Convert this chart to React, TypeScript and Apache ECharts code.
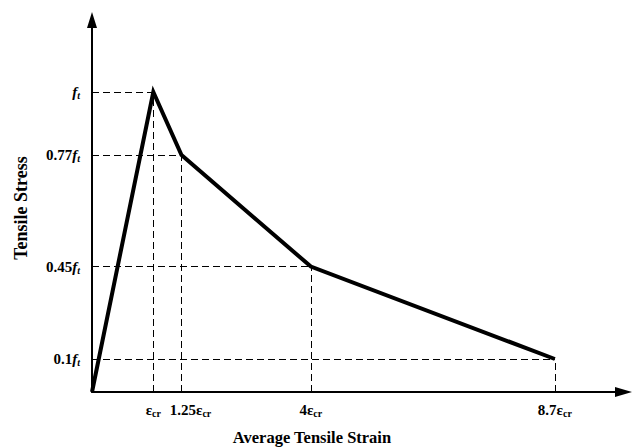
import React, { useEffect, useRef } from "react";
import * as echarts from "echarts";

// Strain positions (in units of ε_cr, as drawn) and stress (in units of f_t, as drawn)
const strainPos = [0, 1, 1.46, 3.57, 7.55];
const stressPos = [0, 1, 0.79, 0.418, 0.11];
const strainLabels = ["", "", "1.25", "4", "8.7"]; // prefix before ε_cr
const stressLabels = ["", "", "0.77", "0.45", "0.1"]; // prefix before f_t
const xTitle = "Average Tensile Strain";
const yTitle = "Tensile Stress";

const SERIF = "'Liberation Serif', 'Times New Roman', serif";

export default function App() {
  const ref = useRef<HTMLDivElement>(null);
  useEffect(() => {
    if (!ref.current) return;
    const chart = echarts.init(ref.current, undefined, { renderer: "svg" });
    const points = strainPos.map((x, i) => [x, stressPos[i]]);
    const guides: any[] = [];
    for (let i = 1; i < points.length; i++) {
      const [x, y] = points[i];
      guides.push([{ coord: [0, y] }, { coord: [x, y] }]);
      guides.push([{ coord: [x, 0] }, { coord: [x, y] }]);
    }
    const yVals = stressPos.slice(1);
    const baseRich = {
      n: { fontFamily: SERIF, fontWeight: "bold", fontSize: 15, color: "#000" },
      f: { fontFamily: SERIF, fontWeight: "bold", fontStyle: "italic", fontSize: 15, color: "#000" },
      e: { fontFamily: SERIF, fontWeight: "bold", fontSize: 15, color: "#000" },
      p: { width: 18 },
      s: {
        fontFamily: SERIF,
        fontWeight: "bold",
        fontSize: 10,
        color: "#000",
        padding: [7, 0, 0, 0],
      },
      si: {
        fontFamily: SERIF,
        fontWeight: "bold",
        fontStyle: "italic",
        fontSize: 10,
        color: "#000",
        padding: [7, 0, 0, 0],
      },
    };
    const xFormatter = (v: number) => {
      const i = strainPos.indexOf(v);
      const pre = i >= 0 ? strainLabels[i] : "";
      const pad = i === 2 ? "{p|}" : "";
      return pad + (pre ? `{n|${pre}}` : "") + "{e|ε}{s|cr}";
    };
    const xBase = {
      type: "value",
      min: 0,
      max: 8.67,
      position: "bottom",
      axisTick: { show: false },
      splitLine: { show: false },
    };
    chart.setOption({
      animation: false,
      backgroundColor: "#fff",
      grid: { left: 92, right: 10.5, top: 20, bottom: 55, containLabel: false },
      xAxis: [
        {
          ...xBase,
          axisLine: {
            show: true,
            symbol: ["none", "triangle"],
            symbolSize: [10, 17],
            lineStyle: { color: "#000", width: 2 },
          },
          axisLabel: {
            customValues: strainPos.slice(2),
            interval: 0,
            hideOverlap: false,
            margin: 9,
            formatter: xFormatter,
            rich: baseRich,
          },
        },
        {
          ...xBase,
          offset: 0,
          axisLine: { show: false },
          axisLabel: {
            customValues: strainPos.slice(1, 2),
            interval: 0,
            margin: 9,
            formatter: xFormatter,
            rich: baseRich,
          },
        },
      ],
      yAxis: {
        type: "value",
        min: 0,
        max: 1.24,
        axisLine: {
          show: true,
          symbol: ["none", "triangle"],
          symbolSize: [10, 16],
          lineStyle: { color: "#000", width: 2 },
        },
        axisTick: { show: false },
        splitLine: { show: false },
        axisLabel: {
          customValues: yVals,
          interval: 0,
          hideOverlap: false,
          margin: 12,
          formatter: (v: number) => {
            const i = stressPos.indexOf(v);
            const pre = i >= 0 ? stressLabels[i] : "";
            return (pre ? `{n|${pre}}` : "") + "{f|f}{si|t}";
          },
          rich: baseRich,
        },
      },
      graphic: [
        {
          type: "text",
          x: 312,
          y: 437,
          style: {
            text: xTitle,
            fontFamily: SERIF,
            fontWeight: "bold",
            fontSize: 16.5,
            fill: "#000",
            textAlign: "center",
            textVerticalAlign: "middle",
          },
        },
        {
          type: "text",
          x: 21,
          y: 208,
          rotation: Math.PI / 2,
          style: {
            text: yTitle,
            fontFamily: SERIF,
            fontWeight: "bold",
            fontSize: 18,
            fill: "#000",
            textAlign: "center",
            textVerticalAlign: "middle",
          },
        },
      ],
      series: [
        {
          type: "line",
          data: points,
          symbol: "none",
          clip: false,
          lineStyle: { color: "#000", width: 4, join: "miter", cap: "butt" },
          markLine: {
            silent: true,
            symbol: ["none", "none"],
            label: { show: false },
            lineStyle: { color: "#000", width: 1, type: [7, 4] },
            data: guides,
          },
          z: 3,
        },
      ],
    });
    return () => chart.dispose();
  }, []);
  return (
    <div
      ref={ref}
      style={{ position: "absolute", left: 0, top: 0, width: 634, height: 447 }}
    />
  );
}
